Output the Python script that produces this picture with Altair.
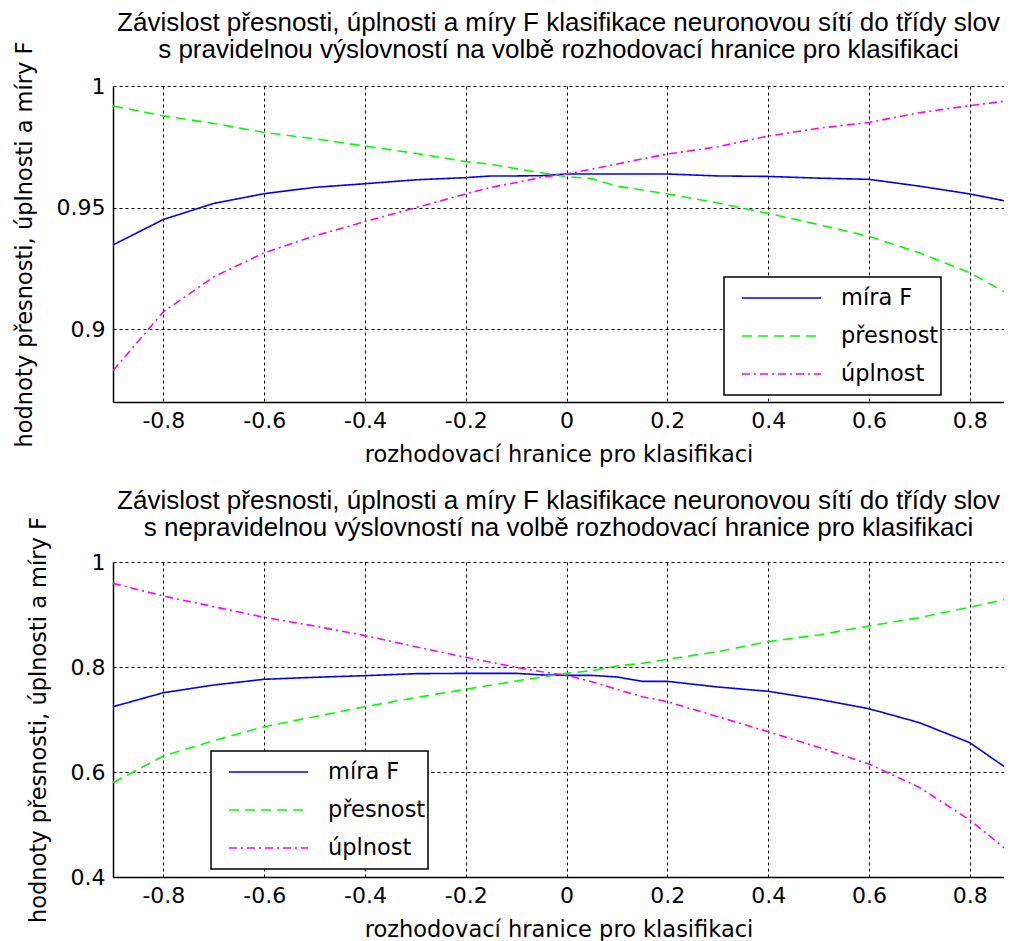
import altair as alt
import pandas as pd

SERIES = ["míra F", "přesnost", "úplnost"]
COLORS = ["#0000ff", "#00ff00", "#ff00ff"]
DASHES = [[1, 0], [10, 6], [8, 4, 2, 4]]

X = [-0.9, -0.8, -0.7, -0.6, -0.5, -0.4, -0.3, -0.2, -0.15, -0.1, -0.05, 0.0,
     0.05, 0.1, 0.15, 0.2, 0.3, 0.4, 0.5, 0.6, 0.7, 0.8, 0.9]

# top panel (regular pronunciation)
F_TOP = [0.9346, 0.9451, 0.9517, 0.9557, 0.9583, 0.9598, 0.9614, 0.9623, 0.9630, 0.9630, 0.9631, 0.9638,
         0.9638, 0.9638, 0.9638, 0.9638, 0.9630, 0.9628, 0.9621, 0.9616, 0.9588, 0.9556, 0.9515]
P_TOP = [0.9918, 0.9877, 0.9846, 0.9809, 0.9783, 0.9753, 0.9723, 0.9689, 0.9678, 0.9660, 0.9643, 0.9627,
         0.9619, 0.9588, 0.9572, 0.9556, 0.9519, 0.9476, 0.9430, 0.9381, 0.9314, 0.9232, 0.9117]
R_TOP = [0.8829, 0.9071, 0.9215, 0.9314, 0.9383, 0.9442, 0.9499, 0.9556, 0.9583, 0.9603, 0.9624, 0.9638,
         0.9658, 0.9679, 0.9700, 0.9720, 0.9750, 0.9794, 0.9826, 0.9850, 0.9890, 0.9919, 0.9946]

# bottom panel (irregular pronunciation)
F_BOT = [0.7244, 0.7510, 0.7657, 0.7766, 0.7804, 0.7835, 0.7873, 0.7879, 0.7879, 0.7879, 0.7850, 0.7841,
         0.7841, 0.7810, 0.7727, 0.7727, 0.7619, 0.7537, 0.7385, 0.7206, 0.6940, 0.6559, 0.5894]
P_BOT = [0.5796, 0.6305, 0.6597, 0.6863, 0.7054, 0.7244, 0.7416, 0.7575, 0.7654, 0.7733, 0.7806, 0.7879,
         0.7930, 0.8019, 0.8070, 0.8146, 0.8292, 0.8483, 0.8610, 0.8781, 0.8940, 0.9137, 0.9350]
R_BOT = [0.9594, 0.9352, 0.9149, 0.8946, 0.8781, 0.8597, 0.8387, 0.8184, 0.8089, 0.7994, 0.7911, 0.7841,
         0.7720, 0.7575, 0.7435, 0.7340, 0.7054, 0.6768, 0.6470, 0.6152, 0.5708, 0.5086, 0.4310]

X_TICKS = [-0.8, -0.6, -0.4, -0.2, 0, 0.2, 0.4, 0.6, 0.8]
Y_TICKS_TOP = [0.9, 0.95, 1]
Y_TICKS_BOT = [0.4, 0.6, 0.8, 1]

TITLE_TOP = ["Závislost přesnosti, úplnosti a míry F klasifikace neuronovou sítí do třídy slov",
             "s pravidelnou výslovností na volbě rozhodovací hranice pro klasifikaci"]
TITLE_BOT = ["Závislost přesnosti, úplnosti a míry F klasifikace neuronovou sítí do třídy slov",
             "s nepravidelnou výslovností na volbě rozhodovací hranice pro klasifikaci"]
X_TITLE = "rozhodovací hranice pro klasifikaci"
Y_TITLE = "hodnoty přesnosti, úplnosti a míry F"


def long(f, p, r):
    rows = []
    for name, vals in zip(SERIES, [f, p, r]):
        for x, v in zip(X, vals):
            rows.append({"x": x, "value": v, "series": name})
    return pd.DataFrame(rows)


def panel(df, ydomain, yticks, title, lx, ly, height, toff):
    leg = alt.Legend(title=None, orient="none", legendX=lx, legendY=ly,
                     fillColor="white", strokeColor="black", padding=2,
                     symbolType="stroke", symbolSize=6241, symbolStrokeWidth=1.6,
                     symbolOffset=15, clipHeight=38, rowPadding=0,
                     labelFont="DejaVu Sans", labelFontSize=22.5, labelOffset=19,
                     labelColor="black", labelLimit=400)
    return alt.Chart(df).mark_line(strokeWidth=1.6, clip=True).encode(
        x=alt.X("x:Q", title=X_TITLE,
                scale=alt.Scale(domain=[-0.9, 0.868], nice=False, zero=False),
                axis=alt.Axis(values=X_TICKS, labelExpr="'' + datum.value")),
        y=alt.Y("value:Q", title=Y_TITLE,
                scale=alt.Scale(domain=ydomain, nice=False, zero=False),
                axis=alt.Axis(values=yticks, labelExpr="'' + datum.value")),
        color=alt.Color("series:N", scale=alt.Scale(domain=SERIES, range=COLORS), legend=leg),
        strokeDash=alt.StrokeDash("series:N", scale=alt.Scale(domain=SERIES, range=DASHES), legend=leg),
    ).properties(
        width=891, height=height,
        title=alt.TitleParams(text=title, font="Liberation Sans", fontSize=26,
                              fontWeight="normal", color="black", anchor="middle",
                              frame="group", lineHeight=27, offset=toff),
    )


top = panel(long(F_TOP, P_TOP, R_TOP), [0.87, 1.0], Y_TICKS_TOP, TITLE_TOP, 611, 191, 316, -22)
bot = panel(long(F_BOT, P_BOT, R_BOT), [0.4, 1.0], Y_TICKS_BOT, TITLE_BOT, 98, 189, 315, -24)

chart = alt.vconcat(top, bot, spacing=21).resolve_scale(
    color="independent", strokeDash="independent"
).resolve_legend(
    color="independent", strokeDash="independent"
).properties(
    padding={"left": 5, "top": 2, "right": 0, "bottom": 0}
).configure_axis(
    labelFont="DejaVu Sans", labelFontSize=22, labelColor="black", labelPadding=8,
    titleFont="DejaVu Sans", titleFontSize=22.5, titleFontWeight="normal", titleColor="black",
    grid=True, gridColor="black", gridDash=[3, 3], gridOpacity=1, gridWidth=1,
    domainColor="black", domainWidth=1.5, ticks=False,
).configure_axisY(titlePadding=20).configure_axisX(titlePadding=12).configure_legend(
    strokeWidth=1.5
).configure_view(stroke=None)

chart.save("out.html", embed_options={"renderer": "svg", "actions": False})
